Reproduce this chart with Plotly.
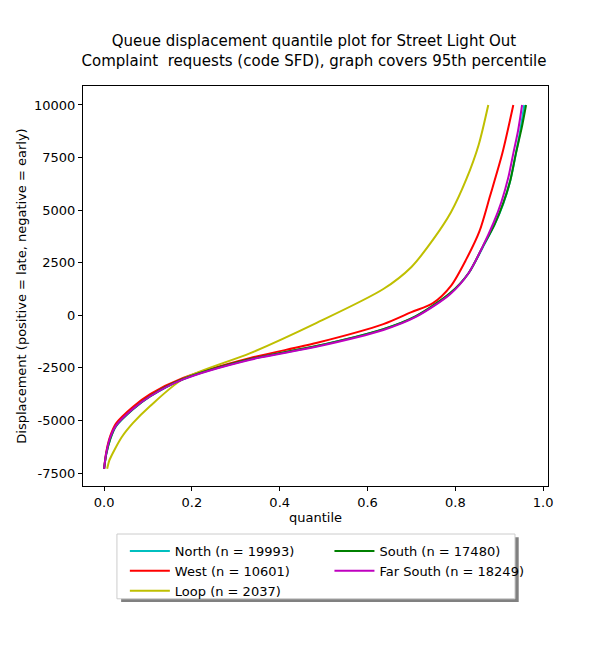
import plotly.graph_objects as go

# quantile points
north_q = [0.0, 0.005, 0.014, 0.027, 0.066, 0.105, 0.18, 0.333, 0.483, 0.636, 0.71, 0.788, 0.83, 0.863, 0.889, 0.909, 0.925, 0.938, 0.948, 0.957]
north_y = [-7300, -6600, -5900, -5290, -4470, -3860, -3040, -2090, -1470, -660, -50, 1030, 2000, 3250, 4300, 5300, 6400, 7700, 8800, 10000]

south_q = [0.0, 0.005, 0.014, 0.027, 0.066, 0.105, 0.18, 0.333, 0.483, 0.636, 0.71, 0.788, 0.83, 0.863, 0.889, 0.909, 0.925, 0.938, 0.951, 0.961]
south_y = [-7300, -6600, -5880, -5266, -4460, -3840, -3032, -2082, -1464, -656, -38, 1055, 2000, 3290, 4300, 5330, 6400, 7710, 8900, 10000]

west_q = [0.0, 0.005, 0.014, 0.027, 0.066, 0.105, 0.18, 0.333, 0.483, 0.636, 0.7, 0.749, 0.79, 0.825, 0.855, 0.879, 0.907, 0.932]
west_y = [-7300, -6500, -5750, -5150, -4350, -3750, -2980, -2030, -1320, -420, 150, 580, 1400, 2670, 4000, 5670, 7700, 10000]

farsouth_q = [0.0, 0.005, 0.014, 0.027, 0.066, 0.105, 0.18, 0.333, 0.483, 0.636, 0.71, 0.788, 0.83, 0.863, 0.887, 0.905, 0.92, 0.932, 0.943, 0.952]
farsouth_y = [-7300, -6550, -5800, -5250, -4450, -3850, -3050, -2110, -1500, -700, -80, 1000, 2000, 3300, 4400, 5400, 6500, 7700, 8800, 10000]

loop_q = [0.007, 0.012, 0.02, 0.04, 0.066, 0.105, 0.18, 0.333, 0.483, 0.636, 0.7, 0.75, 0.79, 0.825, 0.853, 0.875]
loop_y = [-7300, -6900, -6550, -5800, -5120, -4315, -3030, -1800, -370, 1250, 2300, 3620, 4900, 6470, 8100, 10000]

col_left = [
    ("North (n = 19993)", north_q, north_y, "#00bfbf"),
    ("West (n = 10601)", west_q, west_y, "#ff0000"),
    ("Loop (n = 2037)", loop_q, loop_y, "#bfbf00"),
]
col_right = [
    ("South (n = 17480)", south_q, south_y, "#008000"),
    ("Far South (n = 18249)", farsouth_q, farsouth_y, "#bf00bf"),
]

fig = go.Figure()
for legend_id, group in (("legend", col_left), ("legend2", col_right)):
    for name, q, y, c in group:
        fig.add_trace(go.Scatter(x=q, y=y, mode="lines", name=name, legend=legend_id,
                                 line=dict(color=c, width=2, shape="spline", smoothing=0.8)))

# legend box with shadow
fig.add_shape(type="rect", xref="paper", yref="paper", x0=0.082, x1=0.937, y0=-0.128, y1=-0.29,
              fillcolor="#808080", line=dict(width=0))
fig.add_shape(type="rect", xref="paper", yref="paper", x0=0.073, x1=0.929, y0=-0.12, y1=-0.282,
              fillcolor="white", line=dict(color="#cccccc", width=1))

axis = dict(showgrid=False, zeroline=False, showline=True, linecolor="black", mirror=True,
            ticks="outside", ticklen=4, tickcolor="black", tickfont=dict(size=13, color="black"),
            automargin=False)
yt = [-7500, -5000, -2500, 0, 2500, 5000, 7500, 10000]
fig.update_layout(
    width=600, height=650,
    paper_bgcolor="white", plot_bgcolor="white",
    font=dict(family="DejaVu Sans", color="black"),
    margin=dict(l=75, r=60, t=78, b=172, autoexpand=False),
    title=dict(text="Queue displacement quantile plot for Street Light Out<br>Complaint  requests (code SFD), graph covers 95th percentile",
               x=0.51, xanchor="center", yref="container", y=1 - 38 / 650, yanchor="top",
               font=dict(size=15), automargin=False),
    xaxis=dict(axis, range=[-0.048, 1.011], tickvals=[0, 0.2, 0.4, 0.6, 0.8, 1.0],
               ticktext=["0.0", "0.2", "0.4", "0.6", "0.8", "1.0"],
               title=dict(text="quantile", font=dict(size=13), standoff=4)),
    yaxis=dict(axis, range=[-8118, 10903], tickvals=yt, ticktext=[str(v) for v in yt],
               title=dict(text="Displacement (positive = late, negative = early)", font=dict(size=13), standoff=4)),
    legend=dict(x=0.09, xanchor="left", y=-0.125, yanchor="top", bgcolor="rgba(0,0,0,0)",
                borderwidth=0, font=dict(size=13), tracegroupgap=0, itemwidth=40),
    legend2=dict(x=0.53, xanchor="left", y=-0.125, yanchor="top", bgcolor="rgba(0,0,0,0)",
                 borderwidth=0, font=dict(size=13), tracegroupgap=0, itemwidth=40),
)

fig.write_html("out.html")
